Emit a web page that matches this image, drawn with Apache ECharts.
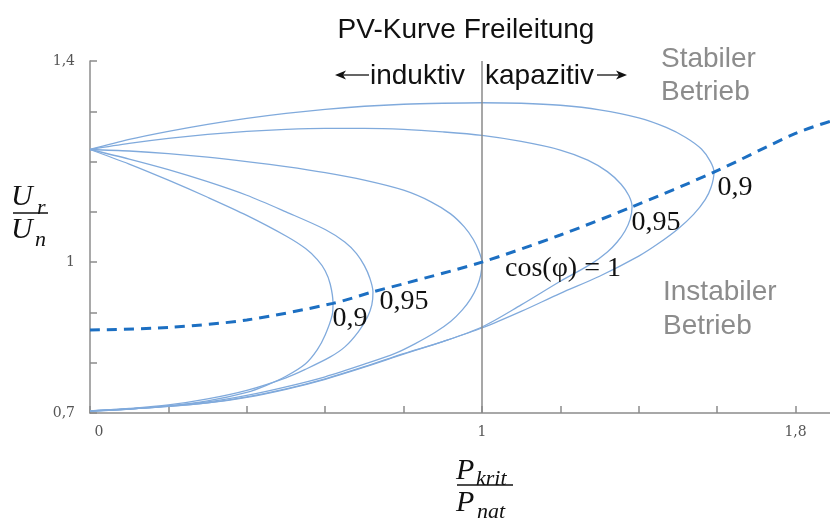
<!DOCTYPE html>
<html>
<head>
<meta charset="utf-8">
<script src="https://cdn.jsdelivr.net/npm/echarts@6/dist/echarts.min.js"></script>
<style>html,body{margin:0;padding:0;background:#fff}#c{width:830px;height:518px}</style>
</head>
<body>
<div id="c"></div>
<script>
// ---- data (x = Pkrit/Pnat, y = Ur/Un) ----
const xTickValues = [0, 1, 1.8];
const xTickLabels = ['0', '1', '1,8'];
const yTickValues = [0.7, 1, 1.4];
const yTickLabels = ['0,7', '1', '1,4'];

// cos(phi)=0.9 kapazitiv (outer loop)
const curveCap09 = [
  [0,1.224],[0.1,1.244],[0.2,1.260],[0.3,1.274],[0.4,1.286],[0.5,1.296],[0.6,1.304],[0.7,1.310],[0.8,1.314],
  [0.9,1.316],[1.0,1.317],[1.1,1.316],[1.2,1.312],[1.3,1.303],[1.4,1.287],[1.47,1.268],[1.52,1.248],
  [1.56,1.225],[1.583,1.200],[1.592,1.179],
  [1.585,1.150],[1.57,1.125],[1.54,1.095],[1.5,1.066],[1.45,1.037],[1.4,1.012],[1.3,0.972],[1.2,0.938],
  [1.1,0.902],[1.0,0.869],[0.9,0.842],[0.8,0.817],[0.7,0.791],[0.6,0.767],[0.5,0.747],[0.4,0.731],
  [0.3,0.720],[0.2,0.713],[0.1,0.708],[0,0.704]
];
// cos(phi)=0.95 kapazitiv
const curveCap095 = [
  [0,1.224],[0.1,1.236],[0.2,1.246],[0.3,1.254],[0.4,1.260],[0.5,1.264],[0.6,1.266],[0.7,1.266],[0.8,1.264],
  [0.9,1.259],[1.0,1.252],[1.1,1.240],[1.2,1.223],[1.27,1.203],[1.32,1.180],[1.355,1.155],[1.375,1.132],
  [1.383,1.110],
  [1.378,1.085],[1.365,1.062],[1.345,1.040],[1.32,1.020],[1.28,0.997],[1.2,0.962],[1.1,0.915],
  [1.0,0.871],[0.9,0.842],[0.8,0.818],[0.7,0.792],[0.6,0.768],[0.5,0.748],[0.4,0.732],
  [0.3,0.720],[0.2,0.713],[0.1,0.708],[0,0.704]
];
// cos(phi)=1
const curveCos1 = [
  [0,1.224],[0.1,1.221],[0.2,1.216],[0.3,1.209],[0.4,1.200],[0.5,1.190],[0.6,1.178],[0.7,1.163],[0.8,1.143],
  [0.87,1.120],[0.92,1.096],[0.955,1.070],[0.978,1.045],[0.992,1.022],[1.0,1.0],
  [0.997,0.975],[0.988,0.952],[0.972,0.928],[0.95,0.905],[0.92,0.882],[0.88,0.860],[0.83,0.838],[0.78,0.819],
  [0.7,0.797],[0.6,0.772],[0.5,0.752],[0.4,0.735],[0.3,0.722],[0.2,0.714],[0.1,0.708],[0,0.704]
];
// cos(phi)=0.95 induktiv
const curveInd095 = [
  [0,1.224],[0.1,1.205],[0.2,1.184],[0.3,1.160],[0.4,1.133],[0.5,1.100],[0.6,1.065],[0.65,1.040],[0.68,1.017],
  [0.70,0.993],[0.714,0.968],[0.722,0.941],
  [0.719,0.915],[0.708,0.891],[0.685,0.862],[0.651,0.832],[0.612,0.811],[0.55,0.787],[0.5,0.770],
  [0.4,0.745],[0.3,0.728],[0.2,0.716],[0.1,0.709],[0,0.704]
];
// cos(phi)=0.9 induktiv (inner loop)
const curveInd09 = [
  [0,1.224],[0.1,1.195],[0.2,1.163],[0.3,1.129],[0.4,1.093],[0.5,1.052],[0.55,1.027],[0.58,1.005],
  [0.60,0.983],[0.613,0.956],[0.620,0.918],
  [0.618,0.895],[0.60,0.855],[0.58,0.826],[0.55,0.798],[0.5,0.773],[0.45,0.755],[0.4,0.741],[0.3,0.724],
  [0.2,0.714],[0.1,0.708],[0,0.704]
];
// critical points (dashed)
const criticalLine = [
  [0,0.865],[0.2,0.870],[0.4,0.885],[0.62,0.918],[0.722,0.941],[0.8,0.957],[1.0,1.0],[1.2,1.054],
  [1.383,1.110],[1.592,1.179],[1.8,1.256],[1.888,1.280]
];

const curveColor = '#80aadc';
function loop(name, data) {
  return {
    name, type: 'line', data, smooth: 0.3, symbol: 'none', clip: false,
    lineStyle: { color: curveColor, width: 1.3 }, z: 3
  };
}

const chart = echarts.init(document.getElementById('c'), null, { renderer: 'canvas' });
const serifLabel = { fontFamily: 'Liberation Serif', fontSize: 28, fill: '#111' };
const option = {
  animation: false,
  grid: { left: 90, right: 0, top: 61, bottom: 105 },
  xAxis: {
    type: 'value', min: 0, max: 1.888, interval: 0.2,
    splitLine: { show: false },
    axisLine: { lineStyle: { color: '#8c8c8c', width: 1.5 } },
    axisTick: { inside: true, length: 7, lineStyle: { color: '#8c8c8c', width: 1.5 } },
    axisLabel: {
      margin: 12, color: '#555', fontFamily: 'DejaVu Serif', fontSize: 14, showMaxLabel: false,
      formatter: v => {
        const i = xTickValues.findIndex(t => Math.abs(t - v) < 1e-6);
        if (i < 0) return '';
        return i === 0 ? '{z|' + xTickLabels[i] + '}' : xTickLabels[i];
      },
      rich: { z: { padding: [0, 0, 0, 18], color: '#555', fontFamily: 'DejaVu Serif', fontSize: 14 } }
    }
  },
  yAxis: {
    type: 'value', min: 0.7, max: 1.4, interval: 0.1,
    splitLine: { show: false },
    axisLine: { show: true, lineStyle: { color: '#8c8c8c', width: 1.5 } },
    axisTick: { show: true, inside: true, length: 7, lineStyle: { color: '#8c8c8c', width: 1.5 } },
    axisLabel: {
      margin: 15, color: '#555', fontFamily: 'DejaVu Serif', fontSize: 14,
      formatter: v => {
        const i = yTickValues.findIndex(t => Math.abs(t - v) < 1e-6);
        return i < 0 ? '' : yTickLabels[i];
      }
    }
  },
  series: [
    loop('cos 0,9 kap', curveCap09),
    loop('cos 0,95 kap', curveCap095),
    Object.assign(loop('cos 1', curveCos1), {
      markLine: {
        silent: true, symbol: 'none', label: { show: false },
        lineStyle: { color: '#8a8a8a', width: 1.5, type: 'solid' },
        data: [{ xAxis: 1 }]
      }
    }),
    loop('cos 0,95 ind', curveInd095),
    loop('cos 0,9 ind', curveInd09),
    {
      name: 'kritisch', type: 'line', data: criticalLine, smooth: 0.3, symbol: 'none', clip: false, z: 5,
      lineStyle: { color: '#1c6fc2', width: 3, type: [10, 7] }
    }
  ],
  graphic: [
    { type: 'text', x: 466, y: 30, style: { text: 'PV-Kurve Freileitung', fontFamily: 'Liberation Sans', fontSize: 28, fill: '#111', align: 'center', verticalAlign: 'middle' } },
    // inductive / capacitive
    { type: 'line', shape: { x1: 340, y1: 75, x2: 369, y2: 75 }, style: { stroke: '#111', lineWidth: 1.3 } },
    { type: 'polygon', shape: { points: [[335, 75], [346, 70.5], [343, 75], [346, 79.5]] }, style: { fill: '#111' } },
    { type: 'text', x: 370, y: 76, style: { text: 'induktiv', fontFamily: 'Liberation Sans', fontSize: 28, fill: '#111', align: 'left', verticalAlign: 'middle' } },
    { type: 'text', x: 485, y: 76, style: { text: 'kapazitiv', fontFamily: 'Liberation Sans', fontSize: 28, fill: '#111', align: 'left', verticalAlign: 'middle' } },
    { type: 'line', shape: { x1: 597, y1: 75, x2: 622, y2: 75 }, style: { stroke: '#111', lineWidth: 1.3 } },
    { type: 'polygon', shape: { points: [[627, 75], [616, 70.5], [619, 75], [616, 79.5]] }, style: { fill: '#111' } },
    // regions
    { type: 'text', x: 661, y: 59, style: { text: 'Stabiler', fontFamily: 'Liberation Sans', fontSize: 28, fill: '#8c8c8c', verticalAlign: 'middle' } },
    { type: 'text', x: 661, y: 92, style: { text: 'Betrieb', fontFamily: 'Liberation Sans', fontSize: 28, fill: '#8c8c8c', verticalAlign: 'middle' } },
    { type: 'text', x: 663, y: 292, style: { text: 'Instabiler', fontFamily: 'Liberation Sans', fontSize: 28, fill: '#8c8c8c', verticalAlign: 'middle' } },
    { type: 'text', x: 663, y: 326, style: { text: 'Betrieb', fontFamily: 'Liberation Sans', fontSize: 28, fill: '#8c8c8c', verticalAlign: 'middle' } },
    // curve labels
    { type: 'text', x: 350, y: 319, z: 10, style: Object.assign({ text: '0,9', align: 'center', verticalAlign: 'middle' }, serifLabel) },
    { type: 'text', x: 404, y: 302, z: 10, style: Object.assign({ text: '0,95', align: 'center', verticalAlign: 'middle' }, serifLabel) },
    { type: 'text', x: 563, y: 269, z: 10, style: Object.assign({ text: 'cos(φ) = 1', align: 'center', verticalAlign: 'middle' }, serifLabel) },
    { type: 'text', x: 656, y: 223, z: 10, style: Object.assign({ text: '0,95', align: 'center', verticalAlign: 'middle' }, serifLabel) },
    { type: 'text', x: 735, y: 188, z: 10, style: Object.assign({ text: '0,9', align: 'center', verticalAlign: 'middle' }, serifLabel) },
    // y axis name: Ur / Un
    { type: 'text', x: 11, y: 197, style: { text: 'U', fontFamily: 'Liberation Serif', fontStyle: 'italic', fontSize: 30, fill: '#111', verticalAlign: 'middle' } },
    { type: 'text', x: 37, y: 208, style: { text: 'r', fontFamily: 'Liberation Serif', fontStyle: 'italic', fontSize: 22, fill: '#111', verticalAlign: 'middle' } },
    { type: 'line', shape: { x1: 13, y1: 213, x2: 48, y2: 213 }, style: { stroke: '#111', lineWidth: 1.5 } },
    { type: 'text', x: 11, y: 230, style: { text: 'U', fontFamily: 'Liberation Serif', fontStyle: 'italic', fontSize: 30, fill: '#111', verticalAlign: 'middle' } },
    { type: 'text', x: 35, y: 240, style: { text: 'n', fontFamily: 'Liberation Serif', fontStyle: 'italic', fontSize: 22, fill: '#111', verticalAlign: 'middle' } },
    // x axis name: Pkrit / Pnat
    { type: 'text', x: 456, y: 471, style: { text: 'P', fontFamily: 'Liberation Serif', fontStyle: 'italic', fontSize: 30, fill: '#111', verticalAlign: 'middle' } },
    { type: 'text', x: 476, y: 479, style: { text: 'krit', fontFamily: 'Liberation Serif', fontStyle: 'italic', fontSize: 22, fill: '#111', verticalAlign: 'middle' } },
    { type: 'line', shape: { x1: 457, y1: 485, x2: 513, y2: 485 }, style: { stroke: '#111', lineWidth: 1.5 } },
    { type: 'text', x: 456, y: 503, style: { text: 'P', fontFamily: 'Liberation Serif', fontStyle: 'italic', fontSize: 30, fill: '#111', verticalAlign: 'middle' } },
    { type: 'text', x: 477, y: 512, style: { text: 'nat', fontFamily: 'Liberation Serif', fontStyle: 'italic', fontSize: 22, fill: '#111', verticalAlign: 'middle' } }
  ]
};
chart.setOption(option);
</script>
</body>
</html>
